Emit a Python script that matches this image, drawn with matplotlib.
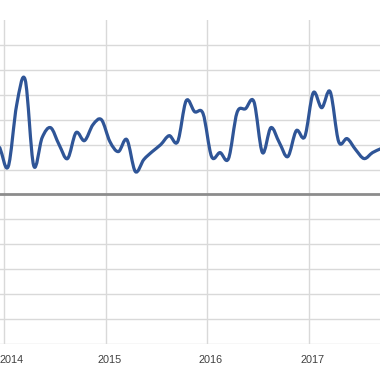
import numpy as np
import matplotlib
matplotlib.use("Agg")
import matplotlib.pyplot as plt
from matplotlib.path import Path
from matplotlib.patches import PathPatch
from matplotlib.transforms import ScaledTranslation

# Monthly values, Dec 2013 .. Sep 2017 (plotted mid-month)
start_year, start_month = 2013, 12
values = [1.88, 1.12, 3.6, 4.6, 1.16, 2.28, 2.68, 2.0, 1.44, 2.48, 2.16, 2.8,
          3.0, 2.12, 1.72, 2.2, 0.92, 1.4, 1.72, 2.0, 2.36, 2.12, 3.76, 3.32,
          3.24, 1.52, 1.68, 1.44, 3.28, 3.44, 3.72, 1.68, 2.68, 2.08, 1.52, 2.56,
          2.32, 4.08, 3.48, 4.12, 2.12, 2.24, 1.8, 1.44, 1.68, 1.84]
year_ticks = [2014, 2015, 2016, 2017]
year_labels = ["2014", "2015", "2016", "2017"]
y_grid = list(range(-6, 7))

xs = np.array([start_year + (start_month - 1 + i + 0.5) / 12 for i in range(len(values))])
ys = np.array(values, dtype=float)

fig = plt.figure(figsize=(3.8, 3.8), dpi=100)
ax = fig.add_axes([0, 1 - 344 / 380, 1, (344 - 20) / 380])
ax.set_xlim(2014 - 4 / 101.67, 2014 + 376 / 101.67)
ax.set_ylim(-6, 7)

for v in y_grid:
    if v == 0:
        continue
    ax.axhline(v, color="#d9d9d9", lw=1.0, zorder=1)
for t in year_ticks:
    ax.axvline(t, color="#d9d9d9", lw=1.0, zorder=1)
ax.axhline(0, color="#8c8c8c", lw=2.0, zorder=2)

# smooth curve (Catmull-Rom -> cubic Bezier) through the data points
P = np.column_stack([xs, ys])
Pext = np.vstack([2 * P[0] - P[1], P, 2 * P[-1] - P[-2]])
verts = [tuple(P[0])]
codes = [Path.MOVETO]
for i in range(1, len(Pext) - 2):
    p0, p1, p2, p3 = Pext[i - 1], Pext[i], Pext[i + 1], Pext[i + 2]
    c1 = p1 + (p2 - p0) / 6
    c2 = p2 - (p3 - p1) / 6
    verts += [tuple(c1), tuple(c2), tuple(p2)]
    codes += [Path.CURVE4] * 3
patch = PathPatch(Path(verts, codes), fill=False, edgecolor="#2f5597",
                  lw=2.3, capstyle="round", joinstyle="round", zorder=3)
ax.add_patch(patch)

for s in ax.spines.values():
    s.set_visible(False)
ax.set_yticks([])
ax.set_xticks(year_ticks)
ax.set_xticklabels(year_labels, fontsize=7.8, color="#404040", family="Liberation Sans")
ax.tick_params(axis="x", length=0, pad=8)
off = ScaledTranslation(3.5 / 100, 0, fig.dpi_scale_trans)
labels = ax.get_xticklabels()
for lab in labels:
    lab.set_transform(lab.get_transform() + off)
# first label sits at the left edge: keep it fully inside the figure
labels[0].set_horizontalalignment("left")
labels[0].set_transform(labels[0].get_transform()
                        + ScaledTranslation(-7.5 / 100, 0, fig.dpi_scale_trans))

fig.savefig("out.png", dpi=100)
